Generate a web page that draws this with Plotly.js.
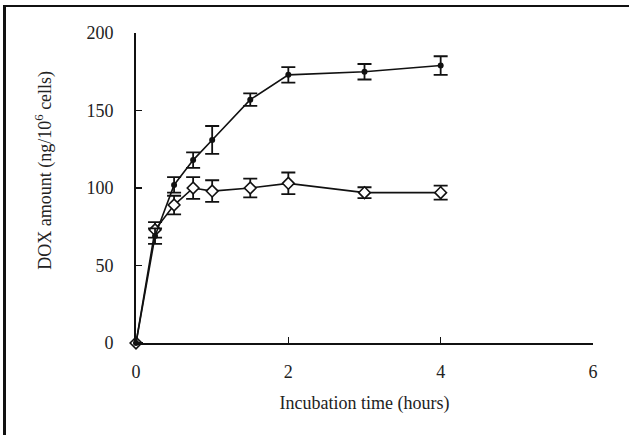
<!DOCTYPE html>
<html>
<head>
<meta charset="utf-8">
<script src="https://cdn.plot.ly/plotly-3.0.1.min.js"></script>
<style>
html,body{margin:0;padding:0;background:#fff;}
#wrap{position:relative;width:629px;height:435px;}
#chart{width:629px;height:435px;}
#frame{position:absolute;left:3px;top:5px;width:626px;height:430px;border-left:3px solid #111;border-top:2.5px solid #111;box-sizing:border-box;pointer-events:none;}
</style>
</head>
<body>
<div id="wrap"><div id="chart"></div><div id="frame"></div></div>
<script>
var timeHours = [0, 0.25, 0.5, 0.75, 1, 1.5, 2, 3, 4];
var filledValues = [0, 69, 102, 118, 131, 157, 173, 175, 179];
var filledErrors = [0, 5, 5, 5, 9, 4, 5, 5, 6];
var openValues = [0, 73, 89, 100, 98, 100, 103, 97, 97];
var openErrors = [0, 5, 6, 7, 7, 6, 7, 3.5, 4.5];
var xTicks = [0, 2, 4, 6];
var yTicks = [0, 50, 100, 150, 200];
var xTitle = 'Incubation time (hours)';
var yTitle = 'DOX amount (ng/10<sup>6</sup> cells)';

var traces = [
  {
    x: timeHours, y: openValues, type: 'scatter', mode: 'lines+markers',
    line: {color: '#111', width: 1.6},
    marker: {symbol: 'diamond', size: 9, color: '#fff', line: {color: '#111', width: 1.6}},
    error_y: {type: 'data', array: openErrors, visible: true, color: '#111', thickness: 1.8, width: 7},
    showlegend: false, cliponaxis: false
  },
  {
    x: timeHours, y: filledValues, type: 'scatter', mode: 'lines+markers',
    line: {color: '#111', width: 1.6},
    marker: {symbol: 'circle', size: 6, color: '#111'},
    error_y: {type: 'data', array: filledErrors, visible: true, color: '#111', thickness: 1.8, width: 7},
    showlegend: false, cliponaxis: false
  }
];

var fam = '"Liberation Serif", "Times New Roman", serif';

var layout = {
  width: 629, height: 435,
  margin: {l: 136, r: 36, t: 33, b: 92},
  paper_bgcolor: '#fff', plot_bgcolor: '#fff',
  font: {family: fam, color: '#222', size: 18},
  xaxis: {
    range: [0, 6], tickvals: xTicks, ticktext: xTicks.map(String),
    ticks: 'inside', ticklen: 6, tickwidth: 1.5, tickcolor: '#111',
    ticklabelstandoff: 11,
    showline: true, linecolor: '#111', linewidth: 2, showgrid: false, zeroline: false,
    tickfont: {family: fam, size: 18, color: '#222'},
    title: {text: xTitle, font: {family: fam, size: 18, color: '#222'}, standoff: 16}
  },
  yaxis: {
    range: [0, 200], tickvals: yTicks, ticktext: yTicks.map(String),
    ticks: 'inside', ticklen: 6, tickwidth: 1.5, tickcolor: '#111',
    ticklabelstandoff: 17,
    showline: true, linecolor: '#111', linewidth: 2, showgrid: false, zeroline: false,
    tickfont: {family: fam, size: 18, color: '#222'}
  },
  annotations: [{
    text: yTitle, xref: 'paper', yref: 'paper',
    x: -0.2013, y: 0.556, xanchor: 'center', yanchor: 'middle',
    textangle: -90, showarrow: false,
    font: {family: fam, size: 18, color: '#222'}
  }]
};

Plotly.newPlot('chart', traces, layout, {displayModeBar: false, staticPlot: true});
</script>
</body>
</html>
